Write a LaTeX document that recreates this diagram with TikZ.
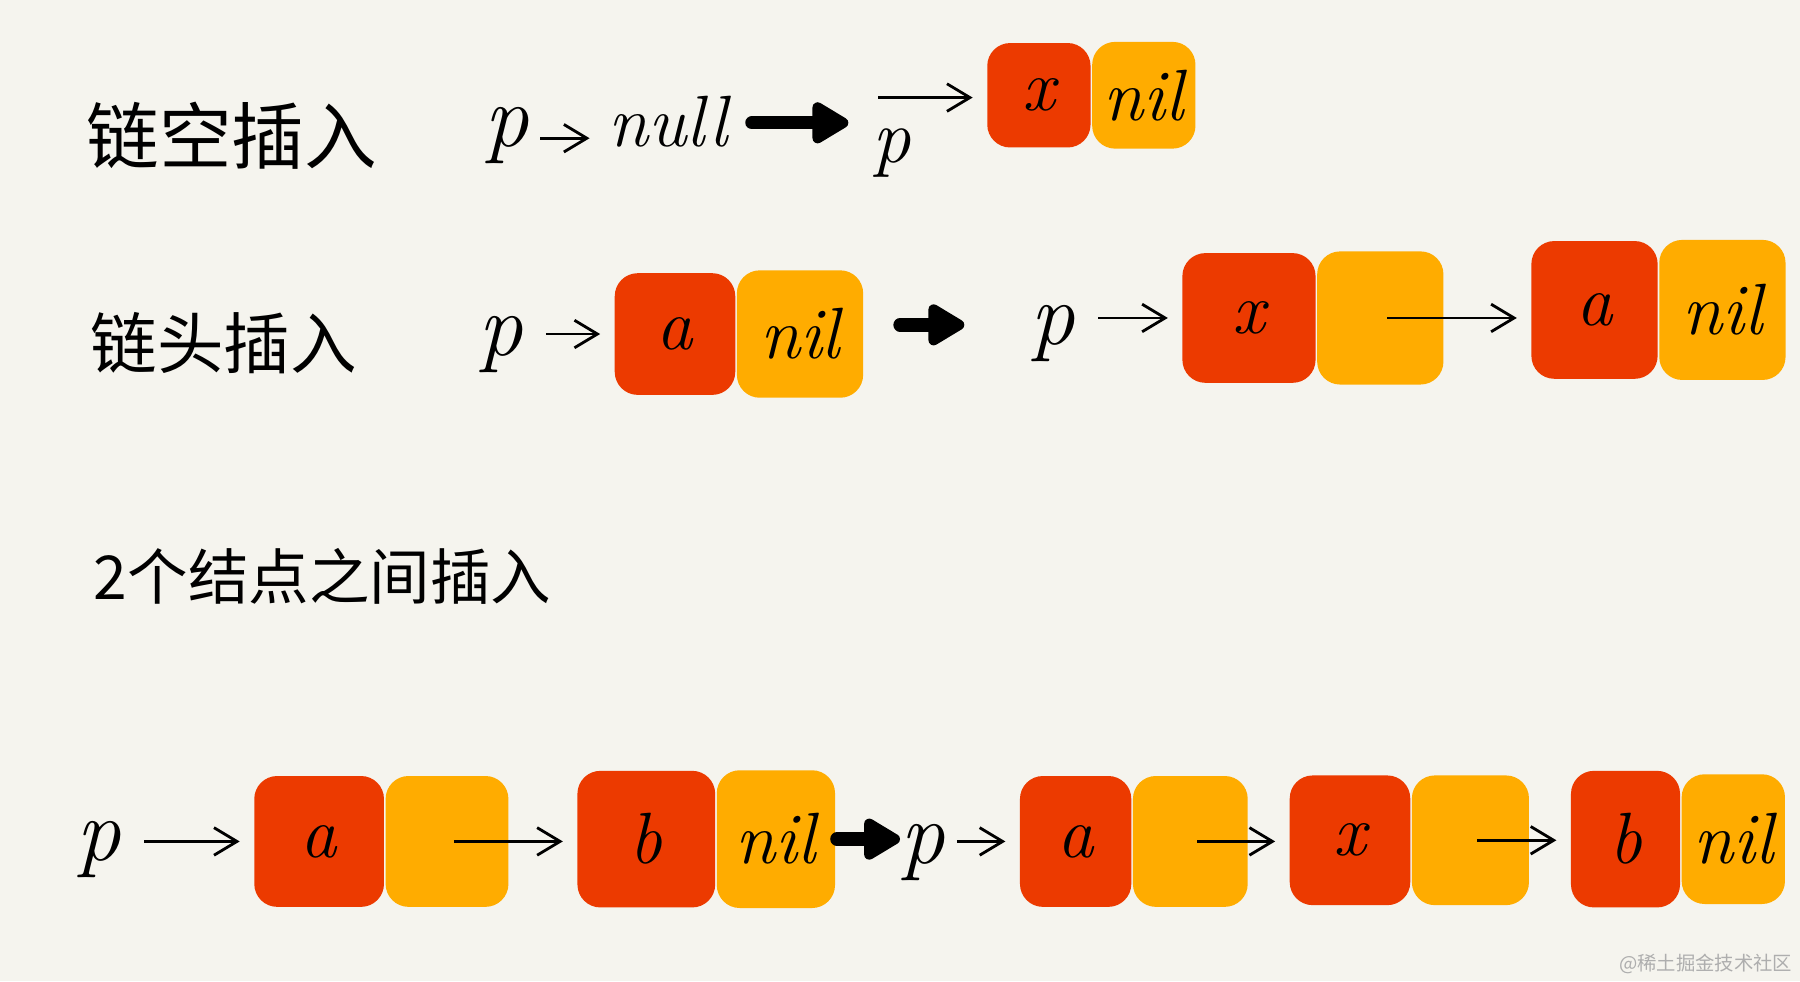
\documentclass[tikz,border=0pt]{standalone}
\usepackage{fontspec}
\newfontfamily\cjk{Noto Sans CJK SC}
\usetikzlibrary{positioning,arrows.meta}
\definecolor{paper}{HTML}{F5F4EE}
\definecolor{datared}{HTML}{EC3A00}
\definecolor{nextyellow}{HTML}{FFAC00}
\definecolor{markgray}{HTML}{AEAEAE}
\tikzset{
  rowtitle/.style={font=\cjk\fontsize{#1}{#1}\selectfont, inner sep=0pt},
  ptr/.style={font=\fontsize{22}{24}\selectfont\itshape, inner sep=1pt, anchor=base},
  word/.style={font=\fontsize{18}{20}\selectfont\itshape, inner sep=1pt, anchor=base},
  datacell/.style={fill=datared, rounded corners=2mm, minimum width=10.8mm, minimum height=11.4mm, inner sep=0pt, font=\fontsize{18}{20}\selectfont\itshape},
  nextcell/.style={datacell, fill=nextyellow},
  link/.style={line width=0.7pt, -{Straight Barb[length=2mm,width=2.4mm]}, shorten >=1.2mm, shorten <=0.6mm},
  ptrlink/.style={link, shorten <=1.6mm},
  bigarrow/.style={line width=3.3pt, line cap=round, -{Triangle[length=3.6mm,width=4mm,round]}}
}
\begin{document}
\begin{tikzpicture}[x=0.1mm,y=-0.1mm]
\useasboundingbox (0,0) rectangle (1568,855);
\fill[paper] (0,0) rectangle (1568,855);
% empty list
\node[rowtitle=18] (t1) at (202,118) {链空插入};
\node[ptr] (p1) at (441,128) {p};
\node[word] (null1) at (582,128) {null};
\draw[link] (p1.mid east) -- (p1.mid east -| null1.west);
\coordinate (go1s) at (655,107);
\coordinate (go1e) at (739,107);
\draw[bigarrow] (go1s) -- (go1e);
\node[ptr, font=\fontsize{19}{20}\selectfont\itshape] (p2) at (777,142) {p};
\node[datacell, minimum width=9mm, minimum height=9.1mm] (x1) at (905,83) {x};
\node[nextcell, minimum width=9mm, minimum height=9.3mm, right=0pt of x1] (nil1) {nil};
\coordinate (p2tail) at (759,85);
\draw[link] (p2tail) -- (p2tail -| x1.west);
% head insert
\node[rowtitle=16.5] (t2) at (195,299) {链头插入};
\node[ptr] (p3) at (436,310) {p};
\node[datacell, minimum width=10.5mm, minimum height=10.6mm] (a1) at (588,291) {a};
\node[nextcell, minimum width=11mm, minimum height=11.1mm, right=0pt of a1] (nil2) {nil};
\draw[ptrlink] (a1.west -| p3.east) -- (a1.west);
\coordinate (go2s) at (784,283);
\coordinate (go2e) at (840,283);
\draw[bigarrow] (go2s) -- (go2e);
\node[ptr] (p4) at (917,300) {p};
\node[datacell, minimum width=11.6mm, minimum height=11.3mm] (x2) at (1088,277) {x};
\node[nextcell, minimum width=11mm, minimum height=11.6mm, right=0pt of x2] (e2) {};
\draw[ptrlink] (x2.west -| p4.east) -- (x2.west);
\node[datacell, minimum width=11mm, minimum height=12mm] (a2) at (1389,270) {a};
\node[nextcell, minimum width=11mm, minimum height=12.2mm, right=0pt of a2] (nil3) {nil};
\draw[link] (e2.center) -- (e2.center -| a2.west);
% insert between two nodes
\node[rowtitle=15] (t3) at (281,502) {2个结点之间插入};
\node[ptr] (p5) at (86,750) {p};
\node[datacell, minimum width=11.3mm] (a3) at (278,733) {a};
\node[nextcell, minimum width=10.7mm, right=0pt of a3] (e3) {};
\draw[ptrlink] (a3.west -| p5.east) -- (a3.west);
\node[datacell, minimum width=12mm, minimum height=11.9mm] (b1) at (563,731) {b};
\node[nextcell, minimum width=10.3mm, minimum height=12mm, right=0pt of b1] (nil4) {nil};
\draw[link] (e3.center) -- (e3.center -| b1.west);
\coordinate (go3s) at (729,731);
\coordinate (go3e) at (784,731);
\draw[bigarrow] (go3s) -- (go3e);
\node[ptr] (p6) at (804,752) {p};
\node[datacell, minimum width=9.7mm] (a4) at (937,733) {a};
\node[nextcell, minimum width=10mm, right=0pt of a4] (e4) {};
\draw[link] (a4.west -| p6.east) -- (a4.west);
\node[datacell, minimum width=10.5mm, minimum height=11.3mm] (x3) at (1176,732) {x};
\node[nextcell, minimum width=10.2mm, minimum height=11.3mm, right=0pt of x3] (e5) {};
\draw[link] (e4.center) -- (e4.center -| x3.west);
\node[datacell, minimum width=9.5mm, minimum height=11.9mm] (b2) at (1416,731) {b};
\node[nextcell, minimum width=9mm, minimum height=11.3mm, right=0pt of b2] (nil5) {nil};
\draw[link] (e5.center) -- (e5.center -| b2.west);
\node[font=\cjk\fontsize{4.8}{6}\selectfont, text=markgray, inner sep=0pt, anchor=east] (mark) at (1562,840) {@稀土掘金技术社区};
\end{tikzpicture}
\end{document}
